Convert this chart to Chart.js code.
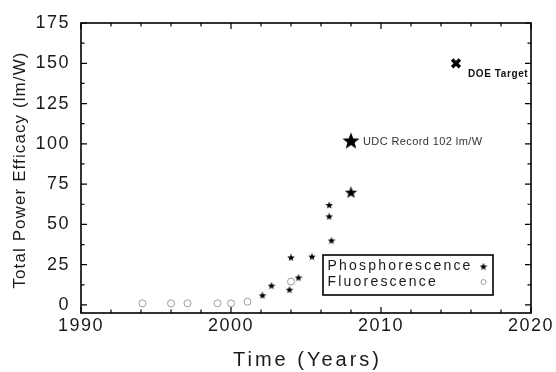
<!DOCTYPE html>
<html>
<head>
<meta charset="utf-8">
<script src="https://cdn.jsdelivr.net/npm/chart.js@4.4.0/dist/chart.umd.min.js"></script>
<style>
  html, body { margin: 0; padding: 0; background: #fff; }
</style>
</head>
<body>
<canvas id="myChart" width="556" height="372"></canvas>
<script>
//datos (año, eficacia en lm/W)
const fosforescenciaX = [2002.1, 2002.7, 2003.9, 2004.0, 2004.5, 2005.4, 2006.7, 2006.55, 2006.55]
const fosforescenciaY = [6, 12, 9.5, 29.5, 17, 30, 40, 55, 62]
const recordX = [2008.0, 2008.0]
const recordY = [70, 102]
const fluorescenciaX = [1994.1, 1996.0, 1997.1, 1999.1, 2000.0, 2001.1, 2004.0]
const fluorescenciaY = [1, 1, 1, 1, 1, 2, 14.5]
const doeX = [2015]
const doeY = [150]
const xTicks = [1990, 2000, 2010, 2020]
const yTicks = [0, 25, 50, 75, 100, 125, 150, 175]

const fuente = "'Liberation Sans', Arial, sans-serif"

//se juntan los arrays en puntos {x, y}
function puntos(xs, ys) {
    return xs.map(function (x, i) {
        return { x: x, y: ys[i] };
    });
}

//estrella rellena de 5 puntas dibujada en un canvas para usarla como pointStyle
function estrella(tam) {
    const c = document.createElement('canvas')
    c.width = tam
    c.height = tam
    const g = c.getContext('2d')
    const r = tam / 2
    const ri = r * 0.42
    g.beginPath()
    for (let i = 0; i < 10; i++) {
        const rad = i % 2 ? ri : r
        const a = -Math.PI / 2 + i * Math.PI / 5
        g.lineTo(r + rad * Math.cos(a), r + 0.09 * r + rad * Math.sin(a))
    }
    g.closePath()
    g.fillStyle = '#000'
    g.fill()
    return c
}
const estrellaChica = estrella(8)
const estrellaMedia = estrella(13)
const estrellaGrande = estrella(18)

//texto con espaciado entre letras
function texto(ctx, str, x, y, font, color, espacio, align) {
    ctx.save()
    ctx.font = font
    ctx.fillStyle = color
    ctx.letterSpacing = espacio + 'px'
    ctx.textAlign = align || 'left'
    ctx.textBaseline = 'middle'
    ctx.fillText(str, x, y)
    ctx.restore()
}

//marco con las marcas hacia adentro en los 4 lados
const marco = {
    id: 'marco',
    beforeDraw(chart) {
        chart.ctx.letterSpacing = '1.5px'
    },
    beforeDatasetsDraw(chart) {
        const { ctx, chartArea: a, scales: { x, y } } = chart
        ctx.save()
        ctx.strokeStyle = '#000'
        ctx.lineWidth = 1.6
        ctx.strokeRect(a.left, a.top, a.right - a.left, a.bottom - a.top)
        ctx.lineWidth = 1.2
        ctx.beginPath()
        for (let v = 1990; v <= 2020; v += 2) {
            const px = x.getPixelForValue(v)
            const len = v % 10 === 0 ? 6 : 3.5
            ctx.moveTo(px, a.bottom); ctx.lineTo(px, a.bottom - len)
            ctx.moveTo(px, a.top); ctx.lineTo(px, a.top + len)
        }
        for (let v = 0; v <= 175; v += 12.5) {
            const py = y.getPixelForValue(v)
            const len = v % 25 === 0 ? 6 : 3.5
            ctx.moveTo(a.left, py); ctx.lineTo(a.left + len, py)
            ctx.moveTo(a.right, py); ctx.lineTo(a.right - len, py)
        }
        ctx.stroke()
        ctx.restore()
    },
    afterDraw(chart) {
        const { ctx, chartArea: a, scales: { x, y } } = chart
        //titulos de los ejes
        texto(ctx, 'Time (Years)', (a.left + a.right) / 2 + 1.5, 360, '20px ' + fuente, '#1a1a1a', 3, 'center')
        ctx.save()
        ctx.translate(20, (a.top + a.bottom) / 2 + 2)
        ctx.rotate(-Math.PI / 2)
        texto(ctx, 'Total Power Efficacy (lm/W)', 0, 0, '17px ' + fuente, '#1a1a1a', 1.1, 'center')
        ctx.restore()

        //anotaciones
        const ux = x.getPixelForValue(recordX[1]), uy = y.getPixelForValue(recordY[1])
        texto(ctx, 'UDC Record 102 lm/W', ux + 12, uy + 1, '11px ' + fuente, '#333', 0.4)
        const dx = x.getPixelForValue(doeX[0]), dy = y.getPixelForValue(doeY[0])
        texto(ctx, 'DOE Target', dx + 12, dy + 10.5, 'bold 10px ' + fuente, '#111', 0.6)

        //leyenda con el marcador a la derecha del texto
        const w = 170, h = 40
        const x0 = a.right - 38 - w, y0 = a.bottom - 18 - h
        ctx.save()
        ctx.strokeStyle = '#000'
        ctx.lineWidth = 1.6
        ctx.strokeRect(x0, y0, w, h)
        ctx.restore()
        const sets = chart.data.datasets
        const filas = [sets[1], sets[0]]
        filas.forEach(function (ds, i) {
            const ty = y0 + 11.5 + i * 15.5
            texto(ctx, ds.label, x0 + 4.5, ty, '14px ' + fuente, '#1a1a1a', 2.2)
            const mx = x0 + w - 9.5
            if (ds.pointStyle === 'circle') {
                ctx.save()
                ctx.strokeStyle = ds.pointBorderColor
                ctx.lineWidth = 1
                ctx.beginPath()
                ctx.arc(mx, ty, 2.5, 0, Math.PI * 2)
                ctx.stroke()
                ctx.restore()
            } else {
                ctx.drawImage(ds.pointStyle, mx - 4, ty - 4)
            }
        })
    }
}

const canvas = document.querySelector('#myChart')
const ctx = canvas.getContext('2d')

let chart = new Chart(ctx, {
    type: 'scatter',
    data: {
        datasets: [{
            label: 'Fluorescence',
            data: puntos(fluorescenciaX, fluorescenciaY),
            pointStyle: 'circle',
            pointRadius: 3.5,
            pointBorderWidth: 1,
            pointBorderColor: '#9c9c9c',
            pointBackgroundColor: 'rgba(0,0,0,0)'
        },
        {
            label: 'Phosphorescence',
            data: puntos(fosforescenciaX, fosforescenciaY),
            pointStyle: estrellaChica
        },
        {
            label: 'UDC Record',
            data: puntos(recordX, recordY),
            pointStyle: function (c) {
                return c.raw && c.raw.y > 90 ? estrellaGrande : estrellaMedia
            }
        },
        {
            label: 'DOE Target',
            data: puntos(doeX, doeY),
            pointStyle: 'crossRot',
            pointRadius: 5.5,
            pointBorderWidth: 3.5,
            pointBorderColor: '#000'
        }]
    },
    options: {
        responsive: false,
        animation: false,
        events: [],
        layout: { padding: { top: 23, right: 25, left: 0, bottom: 0 } },
        plugins: {
            legend: { display: false },
            tooltip: { enabled: false }
        },
        scales: {
            x: {
                type: 'linear',
                min: 1990,
                max: 2020,
                afterBuildTicks: function (s) {
                    s.ticks = xTicks.map(function (v) { return { value: v }; });
                },
                afterFit: function (s) {
                    s.height = 59
                    s.paddingLeft = 0
                    s.paddingRight = 0
                },
                grid: { display: false, drawTicks: false },
                border: { display: false },
                ticks: {
                    color: '#1a1a1a',
                    font: { family: fuente, size: 18 },
                    padding: 2,
                    maxRotation: 0,
                    autoSkip: false,
                    //sin separador de miles en los años
                    callback: function (v) { return String(v) }
                }
            },
            y: {
                type: 'linear',
                min: -5,
                max: 175,
                afterBuildTicks: function (s) {
                    s.ticks = yTicks.map(function (v) { return { value: v }; });
                },
                afterFit: function (s) {
                    s.width = 81
                    s.paddingTop = 0
                    s.paddingBottom = 0
                },
                grid: { display: false, drawTicks: false },
                border: { display: false },
                ticks: {
                    color: '#1a1a1a',
                    font: { family: fuente, size: 18 },
                    padding: 11,
                    autoSkip: false
                }
            }
        }
    },
    plugins: [marco]
});
</script>
</body>
</html>
